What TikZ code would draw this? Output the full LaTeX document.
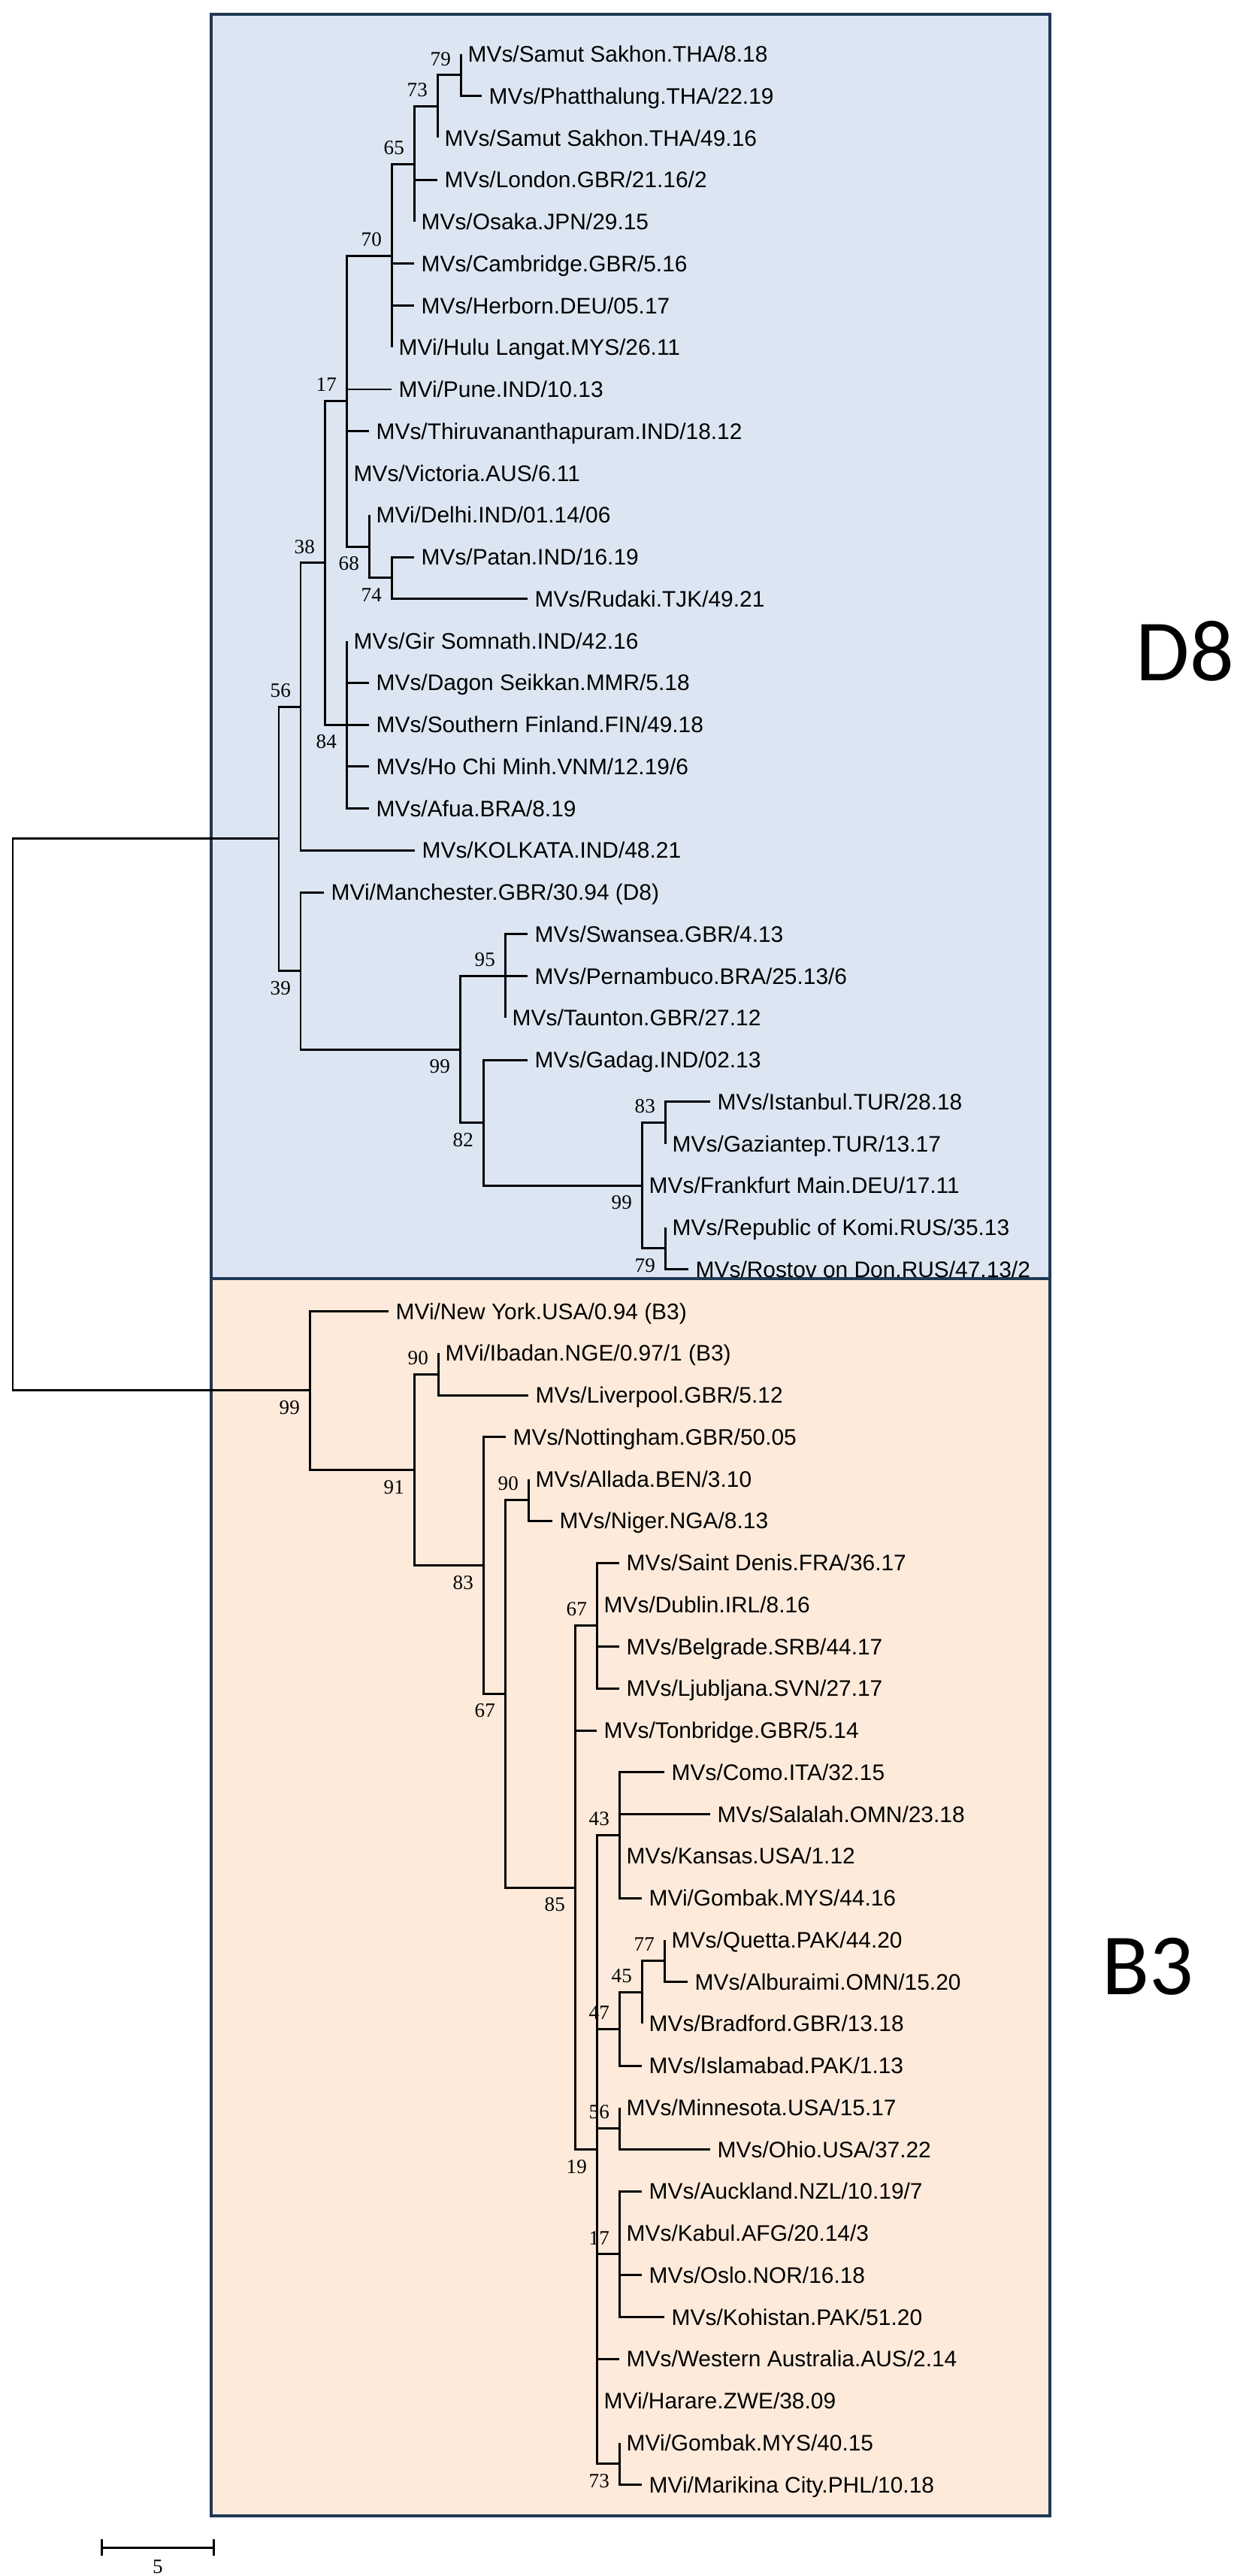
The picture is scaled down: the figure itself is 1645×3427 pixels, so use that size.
\documentclass[tikz,border=0pt]{standalone}
\usepackage{fontspec}
\setmainfont{Liberation Sans}
\newfontfamily\bsfont{Liberation Serif}
\newfontfamily\cladefont{Carlito}
\usetikzlibrary{arrows.meta,positioning}
\definecolor{dEight}{RGB}{220,230,242}
\definecolor{bThree}{RGB}{253,234,218}
\definecolor{boxline}{RGB}{31,56,84}
\newcommand\rowy[1]{72+55.75*(#1-1)}

\begin{document}
\begin{tikzpicture}[x=0.01cm,y=-0.01cm,
    branch/.style={line width=0.85pt},
    leaf/.style={anchor=west,inner xsep=0.09cm,inner ysep=0pt,
      font=\fontsize{8.5}{10}\selectfont,text height=0.21cm,text depth=0pt},
    bsnum/.style={inner sep=0pt,font=\bsfont\fontsize{7.7}{9}\selectfont,
      text height=0.18cm,text depth=0pt},
    bsa/.style={bsnum,anchor=south east,xshift=-0.125cm,yshift=0.12cm},
    bsb/.style={bsnum,anchor=north east,xshift=-0.125cm,yshift=-0.13cm},
    cladebox/.style={draw=boxline,line width=0.9pt},
    clade/.style={font=\cladefont\fontsize{33}{40}\selectfont,inner sep=0pt}]
 \useasboundingbox (0,0) rectangle (1645,3427);
 \draw[cladebox,fill=dEight] (281,19) rectangle (1397,1701);
 \draw[cladebox,fill=bThree] (281,1701) rectangle (1397,3347);
 \node[clade] (D8) at (1577,866) {D8};
 \node[clade] (B3) at (1527,2616) {B3};
 \foreach \r/\x/\t in {1/613/{MVs/Samut Sakhon.THA/8.18},2/641/{MVs/Phatthalung.THA/22.19},
   3/582/{MVs/Samut Sakhon.THA/49.16},4/582/{MVs/London.GBR/21.16/2},5/551/{MVs/Osaka.JPN/29.15},
   6/551/{MVs/Cambridge.GBR/5.16},7/551/{MVs/Herborn.DEU/05.17},8/521/{MVi/Hulu Langat.MYS/26.11},
   9/521/{MVi/Pune.IND/10.13},10/491/{MVs/Thiruvananthapuram.IND/18.12},11/461/{MVs/Victoria.AUS/6.11},
   12/491/{MVi/Delhi.IND/01.14/06},13/551/{MVs/Patan.IND/16.19},14/702/{MVs/Rudaki.TJK/49.21},
   15/461/{MVs/Gir Somnath.IND/42.16},16/491/{MVs/Dagon Seikkan.MMR/5.18},
   17/491/{MVs/Southern Finland.FIN/49.18},18/491/{MVs/Ho Chi Minh.VNM/12.19/6},
   19/491/{MVs/Afua.BRA/8.19},20/552/{MVs/KOLKATA.IND/48.21},21/431/{MVi/Manchester.GBR/30.94 (D8)},
   22/702/{MVs/Swansea.GBR/4.13},23/702/{MVs/Pernambuco.BRA/25.13/6},24/672/{MVs/Taunton.GBR/27.12},
   25/702/{MVs/Gadag.IND/02.13},26/945/{MVs/Istanbul.TUR/28.18},27/885/{MVs/Gaziantep.TUR/13.17},
   28/854/{MVs/Frankfurt Main.DEU/17.11},29/885/{MVs/Republic of Komi.RUS/35.13},
   30/916/{MVs/Rostov on Don.RUS/47.13/2},31/517/{MVi/New York.USA/0.94 (B3)},
   32/583/{MVi/Ibadan.NGE/0.97/1 (B3)},33/703/{MVs/Liverpool.GBR/5.12},
   34/673/{MVs/Nottingham.GBR/50.05},35/703/{MVs/Allada.BEN/3.10},36/735/{MVs/Niger.NGA/8.13},
   37/824/{MVs/Saint Denis.FRA/36.17},38/794/{MVs/Dublin.IRL/8.16},39/824/{MVs/Belgrade.SRB/44.17},
   40/824/{MVs/Ljubljana.SVN/27.17},41/794/{MVs/Tonbridge.GBR/5.14},42/884/{MVs/Como.ITA/32.15},
   43/945/{MVs/Salalah.OMN/23.18},44/824/{MVs/Kansas.USA/1.12},45/854/{MVi/Gombak.MYS/44.16},
   46/884/{MVs/Quetta.PAK/44.20},47/915/{MVs/Alburaimi.OMN/15.20},48/854/{MVs/Bradford.GBR/13.18},
   49/854/{MVs/Islamabad.PAK/1.13},50/824/{MVs/Minnesota.USA/15.17},51/945/{MVs/Ohio.USA/37.22},
   52/854/{MVs/Auckland.NZL/10.19/7},53/824/{MVs/Kabul.AFG/20.14/3},54/854/{MVs/Oslo.NOR/16.18},
   55/884/{MVs/Kohistan.PAK/51.20},56/824/{MVs/Western Australia.AUS/2.14},
   57/794/{MVi/Harare.ZWE/38.09},58/824/{MVi/Gombak.MYS/40.15},59/854/{MVi/Marikina City.PHL/10.18}}
   {\node[leaf] (l\r) at (\x,{\rowy{\r}}) {\t};}
 \foreach \n/\x/\r in {root/17/26.3066,nD8/371/19.7227,n56/400/16.5703,n38/432/13.1406,
   n17/461/9.2813,n70/521/5.8125,n65/551/3.625,n73/582/2.25,n79/613/1.5,n68/491/12.75,
   n74/521/13.5,n84/461/17,n39/400/22.875,n99a/612/24.75,n95/672/23,n82/643/26.5,
   n99b/854/28,n83/885/26.5,n79b/885/29.5,nB3/412/32.8906,n91/551/34.7813,n90a/583/32.5,
   n83b/643/37.0625,n67a/672/40.125,n90b/703/35.5,n85/765/44.75,n67b/794/38.5,n19/794/51,
   n43/824/43.5,n47/824/48.125,n45/854/47.25,n77/884/46.5,n56b/824/50.5,n17b/824/53.5,
   n73b/824/58.5}
   {\coordinate (\n) at (\x,{\rowy{\r}});}
 \foreach \p/\c in {root/nD8,root/nB3,nD8/n56,nD8/n39,n56/n38,n56/l20,n38/n17,n38/n84,
   n17/n70,n17/l9,n17/l10,n17/l11,n17/n68,n70/n65,n70/l6,n70/l7,n70/l8,n65/n73,n65/l4,n65/l5,
   n73/n79,n73/l3,n79/l1,n79/l2,n68/l12,n68/n74,n74/l13,n74/l14,
   n84/l15,n84/l16,n84/l17,n84/l18,n84/l19,n39/l21,n39/n99a,n99a/n95,n99a/n82,
   n95/l22,n95/l23,n95/l24,n82/l25,n82/n99b,n99b/n83,n99b/l28,n99b/n79b,n83/l26,n83/l27,
   n79b/l29,n79b/l30,nB3/l31,nB3/n91,n91/n90a,n91/n83b,n90a/l32,n90a/l33,n83b/l34,n83b/n67a,
   n67a/n90b,n67a/n85,n90b/l35,n90b/l36,n85/n67b,n85/l41,n85/n19,
   n67b/l37,n67b/l38,n67b/l39,n67b/l40,n19/n43,n19/n47,n19/n56b,n19/n17b,n19/l56,n19/l57,n19/n73b,
   n43/l42,n43/l43,n43/l44,n43/l45,n47/n45,n47/l49,n45/n77,n45/l48,n77/l46,n77/l47,
   n56b/l50,n56b/l51,n17b/l52,n17b/l53,n17b/l54,n17b/l55,n73b/l58,n73b/l59}
   {\draw[branch] (\p) |- (\c);}
 \foreach \n/\v in {n79/79,n73/73,n65/65,n70/70,n17/17,n38/38,n56/56,n95/95,n83/83,
   n90a/90,n90b/90,n67b/67,n43/43,n77/77,n45/45,n47/47,n56b/56,n17b/17}
   {\node[bsa] (s\n) at (\n) {\v};}
 \foreach \n/\v in {n68/68,n74/74,n84/84,n39/39,n99a/99,n82/82,n99b/99,n79b/79,
   nB3/99,n91/91,n83b/83,n67a/67,n85/85,n19/19,n73b/73}
   {\node[bsb] (s\n) at (\n) {\v};}
 \coordinate (sbL) at (134,3389);
 \coordinate (sbR) at (286,3389);
 \draw[branch,{Bar[width=0.22cm]}-{Bar[width=0.22cm]}] (sbL) -- (sbR);
 \node[bsnum] (sbV) at (210,3414) {5};
\end{tikzpicture}
\end{document}
